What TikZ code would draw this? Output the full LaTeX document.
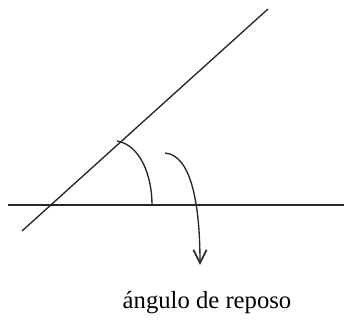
\documentclass[tikz,border=0pt]{standalone}
\usepackage{fontspec}
\setmainfont{Liberation Serif}
\usetikzlibrary{arrows.meta}

\begin{document}
\begin{tikzpicture}[x=0.75pt,y=0.75pt,yscale=-1,xscale=1]
\useasboundingbox (0,0) rectangle (344,320);

\tikzset{lado/.style={line width=1pt, color=black!85}}

%Base and slope
\coordinate (baseL) at (8,205);
\coordinate (baseR) at (344,205);
\coordinate (taludB) at (22,231);
\coordinate (taludT) at (268,9);
\draw [lado]   (baseL) -- (baseR) ;
\draw [lado]   (taludB) -- (taludT) ;

%Angle arc
\coordinate (arcA) at (117,141);
\coordinate (arcB) at (152,205);
\draw [lado]   (arcA) .. controls (140,145) and (152,175) .. (arcB) ;

% Text Node
\draw (207,303) node [inner sep=0.75pt] (etiqueta) {\fontsize{18.5}{22}\selectfont ángulo de reposo};

%Pointer
\coordinate (flechaA) at (165,153);
\coordinate (flechaB) at (200,265);
\draw [lado, -{Straight Barb[length=10pt,width=10pt,line width=1.3pt]}]   (flechaA) .. controls (190,155) and (200,200) .. (flechaB) ;

\end{tikzpicture}
\end{document}
